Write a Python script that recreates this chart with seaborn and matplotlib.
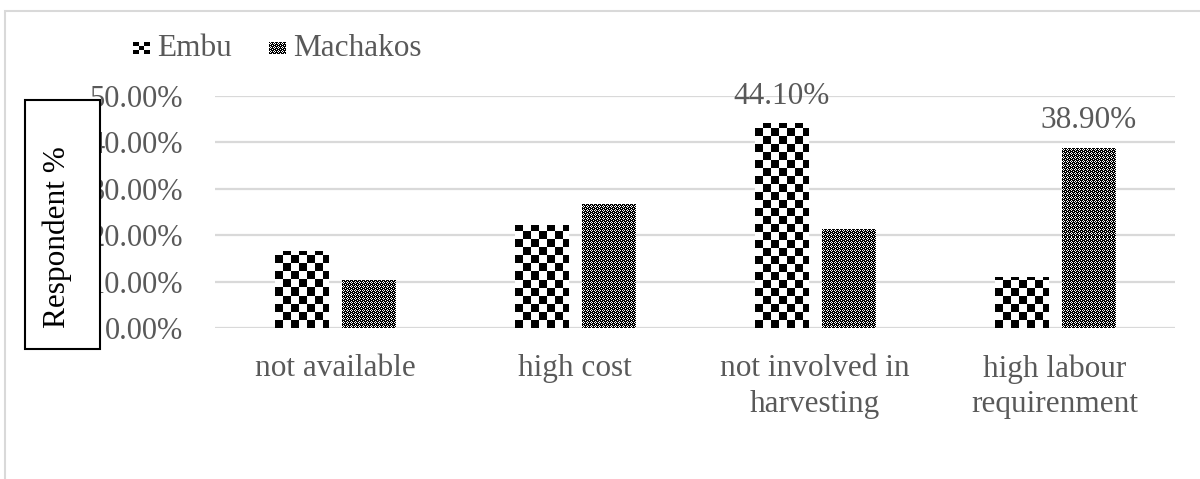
import numpy as np
import pandas as pd
import matplotlib
matplotlib.use("Agg")
import matplotlib.pyplot as plt
from matplotlib.patches import Rectangle
import seaborn as sns

# ---- data -------------------------------------------------------------
categories = ["not available", "high cost", "not involved in\nharvesting",
              "high labour\nrequirenment"]
regions = ["Embu", "Machakos"]
embu = [16.6, 22.3, 44.1, 10.9]
machakos = [10.3, 26.7, 21.3, 38.9]
y_ticks = [0, 10, 20, 30, 40, 50]
shown_labels = {"Embu": [False, False, True, False],
                "Machakos": [False, False, False, True]}

df = pd.DataFrame({
    "category": categories * 2,
    "region": ["Embu"] * 4 + ["Machakos"] * 4,
    "value": embu + machakos,
})

# ---- style ------------------------------------------------------------
sns.set_theme(style="white")
plt.rcParams["font.family"] = ["Liberation Serif", "DejaVu Serif"]
TXT = "#595959"
GRID = "#d9d9d9"
FS = 22.5
FS_TICK = 22

W, H = 1200, 479
fig = plt.figure(figsize=(W / 100, H / 100), dpi=100)
ax = fig.add_axes([215 / W, 1 - 328 / H, 960 / W, (328 - 96) / H])

sns.barplot(data=df, x="category", y="value", hue="region",
            hue_order=regions, order=categories, palette=["black", "black"],
            width=0.56, gap=0.2, legend=False, ax=ax, zorder=2)

ax.set_ylim(0, 50)
ax.set_xlim(-0.5, len(categories) - 0.5)
ax.set_yticks(y_ticks)
ax.set_yticklabels([f"{v:.2f}%" for v in y_ticks])
ax.yaxis.grid(True, color=GRID, linewidth=1.6, zorder=0)
ax.set_axisbelow(True)
for s in ax.spines.values():
    s.set_visible(False)
ax.tick_params(axis="y", length=0, pad=23, labelsize=FS_TICK, labelcolor=TXT)
ax.tick_params(axis="x", length=0, pad=19, labelsize=FS, labelcolor=TXT)
for lbl in ax.get_xticklabels():
    lbl.set_linespacing(1.3)
ax.set_xlabel("")
ax.set_ylabel("")


# ---- fill textures ----------------------------------------------------
def checker(h, w, cell=8):
    yy, xx = np.mgrid[0:h, 0:w]
    return ((yy // cell + xx // cell) % 2 == 0).astype(float)


DOT_TILE = np.array([
    [1, 0, 1, 1],
    [0, 1, 0, 1],
    [1, 0, 1, 1],
    [1, 1, 1, 0],
], dtype=float)


def dotted(h, w):
    # dense black field with small white diamonds
    return np.tile(DOT_TILE, (h // 4 + 1, w // 4 + 1))[:h, :w]


textures = {"Embu": checker, "Machakos": dotted}

fig.canvas.draw()
for region, container in zip(regions, ax.containers):
    for bar in container:
        bb = bar.get_window_extent()
        w_px = max(int(round(bb.width)), 1)
        h_px = max(int(round(bb.height)), 1)
        img = textures[region](h_px, w_px)
        x0, y0 = bar.get_x(), bar.get_y()
        im = ax.imshow(img, cmap="gray_r", vmin=0, vmax=1,
                       extent=(x0, x0 + bar.get_width(), y0, y0 + bar.get_height()),
                       origin="lower", interpolation="nearest", aspect="auto",
                       zorder=3)
        im.set_clip_path(bar)
        bar.set_facecolor("none")
        bar.set_edgecolor("none")

ax.set_xlim(-0.5, len(categories) - 0.5)
ax.set_ylim(0, 50)

# value labels on selected bars
for region, container in zip(regions, ax.containers):
    vals = embu if region == "Embu" else machakos
    labels = [f"{v:.2f}%" if show else "" for v, show in zip(vals, shown_labels[region])]
    ax.bar_label(container, labels=labels, padding=9, fontsize=FS, color=TXT)

# ---- legend -----------------------------------------------------------
swatches = {
    "Embu": np.kron(np.array([[1, 0, 1], [0, 1, 0], [1, 0, 1]], dtype=float),
                    np.ones((4, 6))),
    "Machakos": dotted(12, 17),
}
legend_items = [("Embu", 133, 157), ("Machakos", 269, 293)]
for name, sx, tx in legend_items:
    sw = fig.add_axes([sx / W, 1 - 54 / H, 17 / W, 12 / H])
    sw.imshow(swatches[name], cmap="gray_r", vmin=0, vmax=1,
              interpolation="nearest", aspect="auto")
    sw.axis("off")
    fig.text(tx / W, 1 - 48 / H, name, fontsize=FS, color=TXT,
             ha="left", va="center")

# ---- axis title in a box ----------------------------------------------
fig.patches.append(Rectangle((25 / W, 1 - 349 / H), 75 / W, 249 / H,
                             transform=fig.transFigure, facecolor="white",
                             edgecolor="black", linewidth=1.5, zorder=5))
fig.text(57 / W, 1 - 237 / H, "Respondent %", rotation=90, fontsize=FS,
         color="black", ha="center", va="center", zorder=6)

# ---- chart frame ------------------------------------------------------
fig.patches.append(Rectangle((5 / W, -0.1), 1.2, 1.1 - 11 / H,
                             transform=fig.transFigure, facecolor="none",
                             edgecolor=GRID, linewidth=1.5, zorder=0))

fig.savefig("out.png", dpi=100)
